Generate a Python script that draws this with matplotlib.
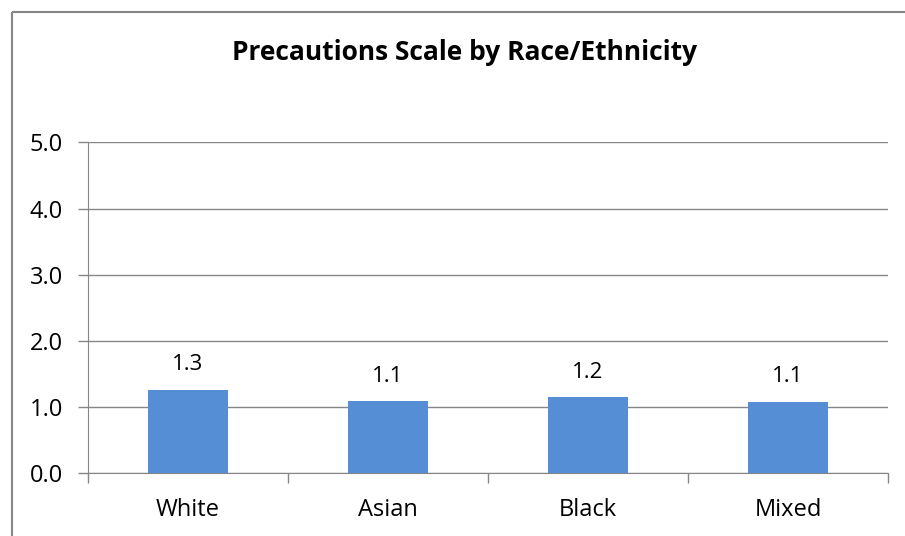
import matplotlib.pyplot as plt
from matplotlib.lines import Line2D

groups = ["White", "Asian", "Black", "Mixed"]
scores = [1.26, 1.09, 1.15, 1.08]
labels = ["1.3", "1.1", "1.2", "1.1"]
yticks = [0.0, 1.0, 2.0, 3.0, 4.0, 5.0]

plt.rcParams["font.family"] = ["Open Sans", "DejaVu Sans"]

W, H = 905, 536
fig = plt.figure(figsize=(W / 100, H / 100), dpi=100)
ax = fig.add_axes([88 / W, 1 - 473.3 / H, 800 / W, 331 / H])

# chart border: only left and top edges fall inside the picture
bx, by = 11.5 / W, 1 - 11.5 / H
fig.lines.append(Line2D([bx, bx], [0, by], transform=fig.transFigure,
                        color="#868686", linewidth=1.5, solid_capstyle="butt"))
fig.lines.append(Line2D([bx, 1], [by, by], transform=fig.transFigure,
                        color="#868686", linewidth=1.5, solid_capstyle="butt"))

x = range(len(groups))
bars = ax.bar(x, scores, width=0.4, color="#558ED5", zorder=3)
for b, lab in zip(bars, labels):
    ax.annotate(lab, (b.get_x() + b.get_width() / 2, b.get_height()),
                xytext=(0, 18), textcoords="offset points",
                ha="center", va="center", fontsize=16)

ax.set_xlim(-0.5, len(groups) - 0.5)
ax.set_ylim(0, 5)
ax.set_yticks(yticks)
ax.set_yticklabels([f"{v:.1f}" for v in yticks], fontsize=17)
ax.set_xticks([i + 0.5 for i in range(-1, len(groups))])
ax.set_xticklabels([])
ax.set_xticks(list(x), minor=True)
ax.set_xticklabels(groups, minor=True, fontsize=17)
ax.tick_params(axis="x", which="minor", length=0, pad=18)
ax.tick_params(axis="x", which="major", length=7, color="#868686", width=1)
ax.tick_params(axis="y", length=7, color="#868686", width=1, pad=11)

ax.grid(axis="y", color="#868686", linewidth=1, zorder=0)
for s in ["top", "right"]:
    ax.spines[s].set_visible(False)
ax.spines["left"].set_color("#868686")
ax.spines["bottom"].set_color("#868686")

fig.text(465 / W, 1 - 52 / H, "Precautions Scale by Race/Ethnicity",
         ha="center", va="center", fontsize=19, fontweight="bold")

fig.savefig("out.png", dpi=100)
